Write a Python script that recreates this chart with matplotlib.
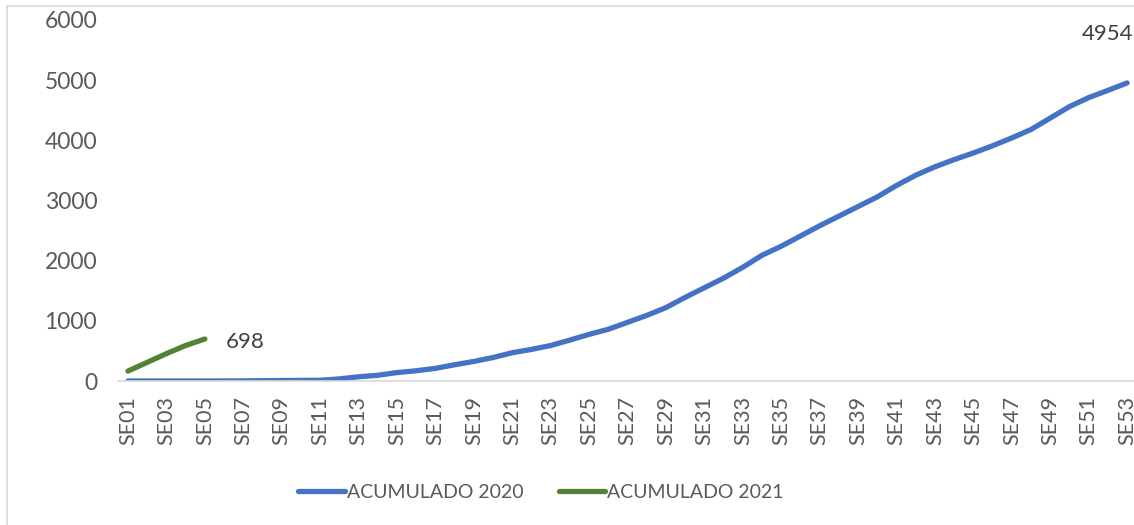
import matplotlib.pyplot as plt
from matplotlib.patches import Rectangle

plt.rcParams['font.family'] = ['Lato', 'DejaVu Sans']

weeks = ['SE%02d' % i for i in range(1, 54)]

acum_2020 = [0, 0, 0, 0, 0, 1, 2, 5, 8, 10,
             12, 35, 70, 95, 140, 170, 210, 270, 325, 390,
             470, 525, 590, 680, 775, 860, 975, 1090, 1220, 1390,
             1550, 1710, 1890, 2090, 2240, 2410, 2580, 2740, 2900, 3060,
             3250, 3420, 3560, 3680, 3790, 3910, 4040, 4180, 4370, 4560,
             4710, 4830, 4954]
acum_2021 = [165, 310, 455, 590, 698]

blue = '#4472C4'
green = '#548235'
grey = '#595959'

fig = plt.figure(figsize=(11.34, 5.25), dpi=100)
# outer chart border
fig.patches.append(Rectangle((7 / 1134, -0.1), 1.2, 1 - 6 / 525 + 0.1,
                             transform=fig.transFigure, fill=False,
                             edgecolor='#d9d9d9', linewidth=1.2))

ax = fig.add_axes([118 / 1134, 1 - 381 / 525, 1 - 118 / 1134, (381 - 20) / 525])

x20 = list(range(len(acum_2020)))
x21 = list(range(len(acum_2021)))
ax.plot(x20, acum_2020, color=blue, lw=3.8, solid_capstyle='round',
        solid_joinstyle='round', label='ACUMULADO 2020')
ax.plot(x21, acum_2021, color=green, lw=3.8, solid_capstyle='round',
        solid_joinstyle='round', label='ACUMULADO 2021')

ax.annotate(str(acum_2020[-1]), (x20[-1], acum_2020[-1]), xytext=(-14, 35),
            textcoords='offset points', ha='center', va='center',
            fontsize=16, color='#404040', annotation_clip=False)
ax.annotate(str(acum_2021[-1]), (x21[-1], acum_2021[-1]), xytext=(29, -2),
            textcoords='offset points', ha='center', va='center',
            fontsize=16, color='#404040')

ax.set_xlim(-0.52, 52.36)
ax.set_ylim(0, 6000)
ax.set_yticks(range(0, 6001, 1000))
ax.set_xticks(x20[::2])
ax.set_xticklabels(weeks[::2], rotation=90)
ax.tick_params(axis='both', length=0, labelcolor=grey)
ax.tick_params(axis='x', pad=11, labelsize=15.5)
ax.tick_params(axis='y', pad=15, labelsize=16.5)

for side in ['top', 'right', 'left']:
    ax.spines[side].set_visible(False)
ax.spines['bottom'].set_color('#d9d9d9')
ax.spines['bottom'].set_linewidth(1.2)
ax.patch.set_alpha(0)

fig.legend(loc='center', bbox_to_anchor=(541 / 1134, 1 - 492 / 525), ncol=2,
           frameon=False, fontsize=14, labelcolor=grey, handlelength=2.4,
           handletextpad=0.1, columnspacing=1.8)

fig.savefig('out.png', dpi=100)
